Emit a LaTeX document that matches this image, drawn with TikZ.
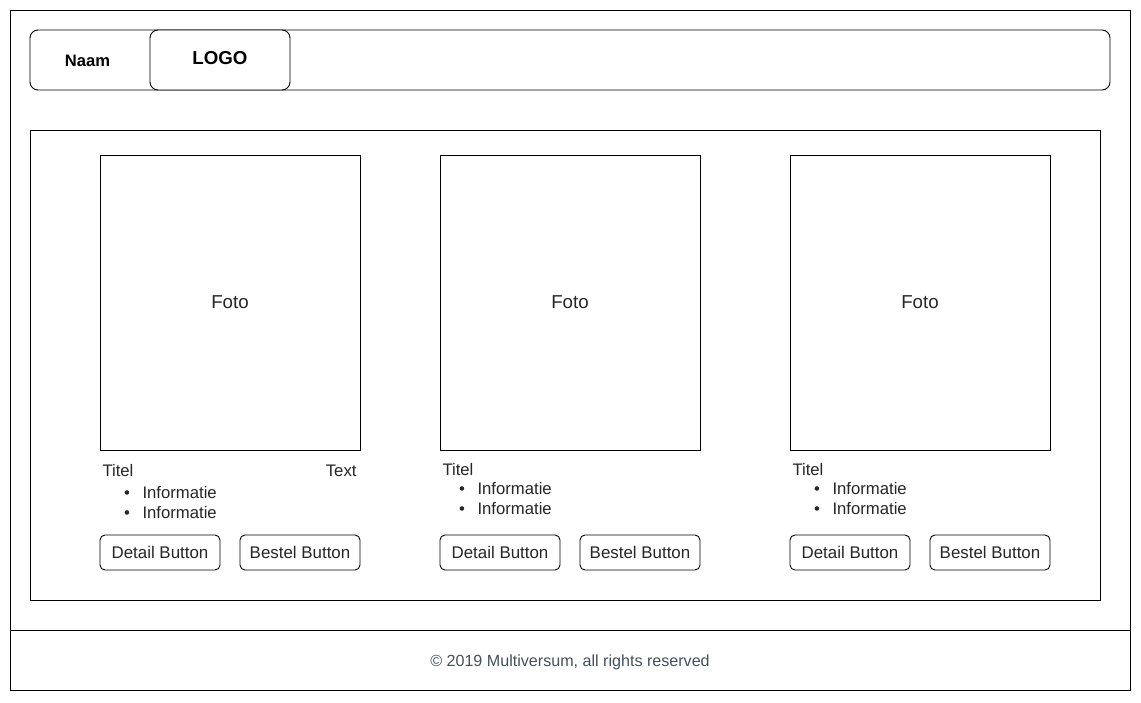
\documentclass[tikz,border=0pt]{standalone}
\usepackage{fontspec}
\setmainfont{Liberation Sans}
\definecolor{foot}{HTML}{44505F}
\begin{document}
\begin{tikzpicture}[x=1pt,y=-1pt,line width=1pt,
  frame/.style={draw=black,line width=1pt},
  rbox/.style={draw=black,line width=0.9pt,rounded corners=8pt},
  btn/.style={draw=black,line width=0.9pt,rounded corners=5pt,minimum width=120pt,minimum height=35pt,inner sep=0pt,font=\fontsize{16.9}{18}\selectfont,text=black!85},
  foto/.style={draw=black,line width=0.9pt,minimum width=260pt,minimum height=295pt,inner sep=0pt},
  txt/.style={inner sep=0pt,anchor=base west,font=\fontsize{16.7}{18}\selectfont,text=black!85},
  bul/.style={inner sep=0pt,anchor=base,font=\fontsize{16.7}{18}\selectfont,text=black!85},
  fototxt/.style={inner sep=0pt,anchor=base,font=\fontsize{18.7}{20}\selectfont,text=black!85}]
\fill[white] (0,0) rectangle (1141,702);
\useasboundingbox (0,0) rectangle (1141,702);
% outer frame
\draw[frame] (10,10) rectangle (1130,630);
\draw[frame] (10,630) rectangle (1130,690);
\node[inner sep=0pt,anchor=base,font=\fontsize{16.1}{18}\selectfont,text=foot] (footer) at (570,666) {© 2019 Multiversum, all rights reserved};
% header
\draw[rbox] (30,30) rectangle (1110,90);
\node[inner sep=0pt,anchor=base,font=\bfseries\fontsize{16.6}{18}\selectfont] (naam) at (87.5,66) {Naam};
\node[draw=black,line width=0.9pt,rounded corners=8pt,fill=white,minimum width=140pt,minimum height=60pt,inner sep=0pt] (logobox) at (220,60) {};
\node[inner sep=0pt,anchor=base,font=\bfseries\fontsize{18.7}{20}\selectfont] (logo) at (220,64.8) {LOGO};
% main
\draw[frame] (30,130) rectangle (1100,600);
% card 1
\node[foto] (f1) at (230,302.5) {};
\node[fototxt] (f1t) at (230,308.8) {Foto};
\node[txt] (t1) at (102,476) {Titel};
\node[txt,anchor=base east] (x1) at (357,476) {Text};
\node[bul] (b1a) at (127,498.3) {•};
\node[txt] (i1a) at (142,498.3) {Informatie};
\node[bul] (b1b) at (127,518.3) {•};
\node[txt] (i1b) at (142,518.3) {Informatie};
\node[btn] (d1) at (160,552.5) {Detail Button};
\node[btn] (s1) at (300,552.5) {Bestel Button};
% card 2
\node[foto] (f2) at (570,302.5) {};
\node[fototxt] (f2t) at (570,308.8) {Foto};
\node[txt] (t2) at (442,475.7) {Titel};
\node[bul] (b2a) at (462,494.3) {•};
\node[txt] (i2a) at (477,494.3) {Informatie};
\node[bul] (b2b) at (462,514.3) {•};
\node[txt] (i2b) at (477,514.3) {Informatie};
\node[btn] (d2) at (500,552.5) {Detail Button};
\node[btn] (s2) at (640,552.5) {Bestel Button};
% card 3
\node[foto] (f3) at (920,302.5) {};
\node[fototxt] (f3t) at (920,308.8) {Foto};
\node[txt] (t3) at (792,475.7) {Titel};
\node[bul] (b3a) at (817,494.3) {•};
\node[txt] (i3a) at (832,494.3) {Informatie};
\node[bul] (b3b) at (817,514.3) {•};
\node[txt] (i3b) at (832,514.3) {Informatie};
\node[btn] (d3) at (850,552.5) {Detail Button};
\node[btn] (s3) at (990,552.5) {Bestel Button};
\end{tikzpicture}
\end{document}
